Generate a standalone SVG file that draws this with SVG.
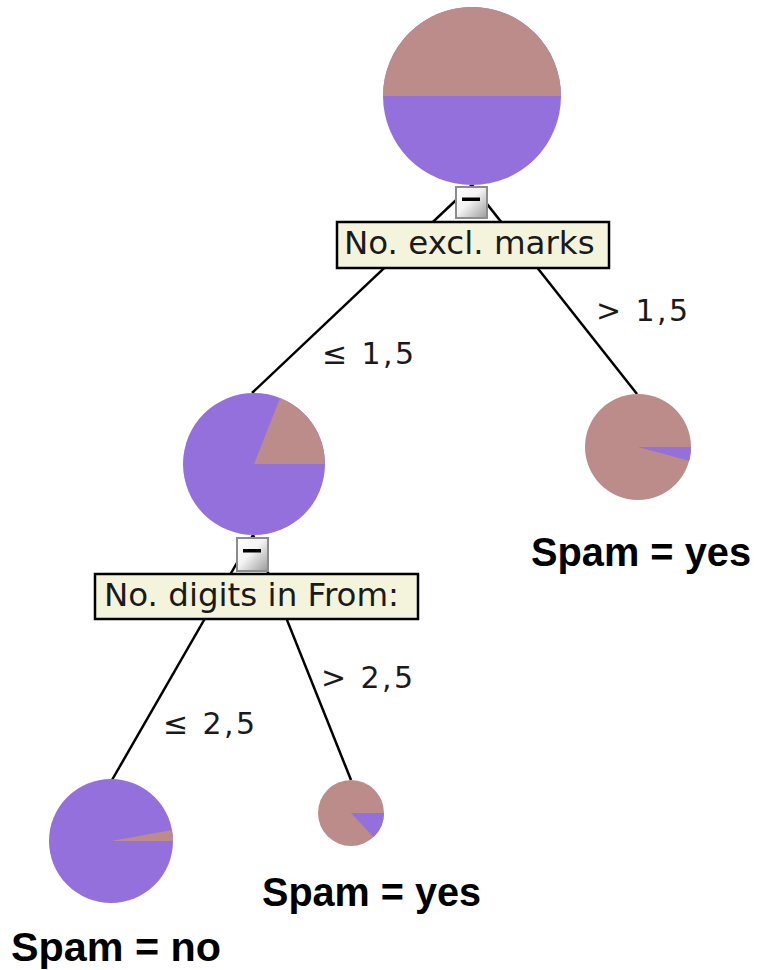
<svg xmlns="http://www.w3.org/2000/svg" width="758" height="970" viewBox="0 0 758 970">
<defs>
<linearGradient id="btn" x1="0" y1="0" x2="1" y2="1">
<stop offset="0" stop-color="#ffffff"/>
<stop offset="0.45" stop-color="#f4f4f4"/>
<stop offset="1" stop-color="#9a9a9a"/>
</linearGradient>
</defs>
<style>
.edge{stroke:#000;stroke-width:2.5;fill:none}
.brown{fill:#bb8c89}
.purple{fill:#9370db}
.lbl{fill:#f4f4dc;stroke:#000;stroke-width:2.5}
.btn{fill:url(#btn);stroke:#8c8c8c;stroke-width:2}
.dash{fill:#000}
.ntxt{font-family:"DejaVu Sans",Verdana,sans-serif;font-size:32.5px;fill:#1a1a1a}
.etxt{font-family:"DejaVu Sans",Verdana,sans-serif;font-size:30px;fill:#1a1a1a}
.res{font-family:"Liberation Sans",Arial,sans-serif;font-weight:bold;font-size:41px;fill:#000}
</style>
<rect width="758" height="970" fill="#fff"/>
<g id="connectors">
<line class="edge" x1="472" y1="185" x2="252" y2="393"/>
<line class="edge" x1="472" y1="185" x2="637" y2="394"/>
<line class="edge" x1="253" y1="535" x2="112" y2="780"/>
<line class="edge" x1="253" y1="535" x2="351" y2="780"/>
</g>
<g id="root">
<circle class="purple" cx="472" cy="96" r="89"/>
<path class="brown" d="M383,96 A89,89 0 0,1 561,96 Z"/>
<rect class="btn" x="456" y="187" width="31" height="31"/>
<rect class="dash" x="462" y="197.5" width="18" height="3.5"/>
<rect class="lbl" x="337" y="222" width="272" height="46"/>
<text class="ntxt" x="344" y="254">No. excl. marks</text>
</g>
<g id="left">
<circle class="purple" cx="254" cy="464" r="71"/>
<path class="brown" d="M254,464 L325,464 A71,71 0 0,0 280,397.9 Z"/>
<rect class="btn" x="237" y="538" width="31" height="33"/>
<rect class="dash" x="243" y="549" width="18" height="3.5"/>
<rect class="lbl" x="95" y="574" width="323" height="45"/>
<text class="ntxt" x="104" y="606">No. digits in From:</text>
</g>
<g id="right">
<circle class="brown" cx="638" cy="447" r="53"/>
<path class="purple" d="M638,447 L691,447 A53,53 0 0,1 689.2,460.7 Z"/>
<text class="res" x="531" y="566" textLength="220" lengthAdjust="spacingAndGlyphs">Spam = yes</text>
</g>
<g id="leftleft">
<circle class="purple" cx="111" cy="841" r="62"/>
<path class="brown" d="M111,841 L173,841 A62,62 0 0,0 172,830 Z"/>
<text class="res" x="11" y="961" textLength="210" lengthAdjust="spacingAndGlyphs">Spam = no</text>
</g>
<g id="leftright">
<circle class="brown" cx="351" cy="813" r="33"/>
<path class="purple" d="M351,813 L384,813 A33,33 0 0,1 373.5,837.1 Z"/>
<text class="res" x="262" y="906" textLength="219" lengthAdjust="spacingAndGlyphs">Spam = yes</text>
</g>
<g id="edge-labels">
<text class="etxt" x="596" y="321" textLength="92" lengthAdjust="spacing">&gt; 1,5</text>
<text class="etxt" x="322" y="364" textLength="92" lengthAdjust="spacing">≤ 1,5</text>
<text class="etxt" x="163" y="734" textLength="92" lengthAdjust="spacing">≤ 2,5</text>
<text class="etxt" x="321" y="688" textLength="92" lengthAdjust="spacing">&gt; 2,5</text>
</g>
</svg>
